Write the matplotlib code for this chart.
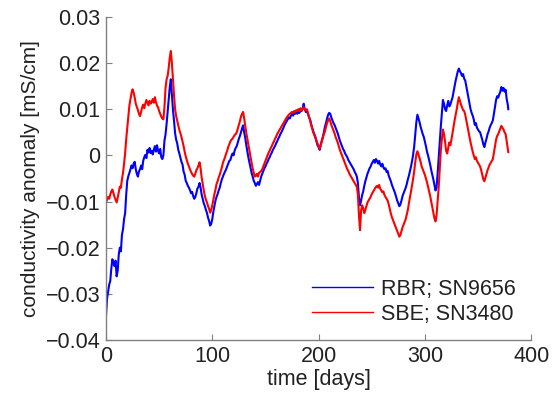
import matplotlib
matplotlib.use("Agg")
import matplotlib.pyplot as plt

plt.rcParams['font.family'] = ['Liberation Sans', 'DejaVu Sans']

# time axis (days), one reading per day
days = list(range(379)) + [378.5]

rbr_vals = [
    -0.0347, -0.0310, -0.0295, -0.0280, -0.0272, -0.0245, -0.0225, -0.0232, -0.0240, -0.0228,
    -0.0262, -0.0250, -0.0215, -0.0200, -0.0208, -0.0172, -0.0160, -0.0138, -0.0125, -0.0085,
    -0.0055, -0.0045, -0.0038, -0.0030, -0.0022, -0.0028, -0.0018, -0.0014, -0.0030, -0.0040,
    -0.0046, -0.0035, -0.0030, -0.0022, -0.0030, -0.0012, -0.0004, 0.0001, -0.0006, 0.0012,
    0.0006, 0.0016, 0.0005, 0.0010, 0.0002, 0.0012, 0.0020, 0.0008, 0.0022, 0.0010,
    0.0004, 0.0014, -0.0004, -0.0008, 0.0000, 0.0032, 0.0045, 0.0068, 0.0095, 0.0120,
    0.0148, 0.0165, 0.0130, 0.0098, 0.0075, 0.0048, 0.0034, 0.0026, 0.0012, 0.0004,
    -0.0005, -0.0014, -0.0020, -0.0035, -0.0042, -0.0055, -0.0060, -0.0066, -0.0070, -0.0075,
    -0.0082, -0.0079, -0.0088, -0.0094, -0.0090, -0.0082, -0.0072, -0.0068, -0.0060, -0.0070,
    -0.0085, -0.0095, -0.0104, -0.0110, -0.0118, -0.0125, -0.0135, -0.0142, -0.0152, -0.0148,
    -0.0138, -0.0122, -0.0110, -0.0098, -0.0090, -0.0084, -0.0076, -0.0070, -0.0060, -0.0052,
    -0.0046, -0.0040, -0.0035, -0.0030, -0.0024, -0.0018, -0.0012, -0.0010, -0.0002, 0.0004,
    0.0000, 0.0010, 0.0016, 0.0020, 0.0028, 0.0036, 0.0042, 0.0050, 0.0058, 0.0065,
    0.0050, 0.0038, 0.0022, 0.0008, -0.0005, -0.0016, -0.0028, -0.0038, -0.0046, -0.0055,
    -0.0060, -0.0066, -0.0062, -0.0058, -0.0064, -0.0055, -0.0046, -0.0040, -0.0034, -0.0028,
    -0.0024, -0.0018, -0.0014, -0.0008, -0.0004, 0.0002, 0.0006, 0.0012, 0.0016, 0.0020,
    0.0026, 0.0030, 0.0036, 0.0040, 0.0046, 0.0050, 0.0055, 0.0060, 0.0066, 0.0070,
    0.0074, 0.0078, 0.0082, 0.0080, 0.0086, 0.0090, 0.0086, 0.0093, 0.0090, 0.0095,
    0.0090, 0.0098, 0.0092, 0.0100, 0.0096, 0.0102, 0.0112, 0.0100, 0.0094, 0.0096,
    0.0090, 0.0082, 0.0078, 0.0068, 0.0060, 0.0052, 0.0046, 0.0040, 0.0030, 0.0022,
    0.0018, 0.0012, 0.0022, 0.0032, 0.0040, 0.0050, 0.0062, 0.0070, 0.0080, 0.0088,
    0.0092, 0.0090, 0.0082, 0.0076, 0.0070, 0.0066, 0.0060, 0.0054, 0.0048, 0.0040,
    0.0032, 0.0026, 0.0020, 0.0014, 0.0010, 0.0004, 0.0000, -0.0004, -0.0010, -0.0014,
    -0.0018, -0.0022, -0.0026, -0.0030, -0.0036, -0.0040, -0.0046, -0.0060, -0.0092, -0.0108,
    -0.0098, -0.0086, -0.0078, -0.0066, -0.0056, -0.0048, -0.0040, -0.0034, -0.0028, -0.0024,
    -0.0018, -0.0014, -0.0010, -0.0016, -0.0008, -0.0012, -0.0018, -0.0012, -0.0020, -0.0024,
    -0.0018, -0.0026, -0.0030, -0.0028, -0.0036, -0.0034, -0.0044, -0.0050, -0.0056, -0.0064,
    -0.0070, -0.0076, -0.0082, -0.0090, -0.0098, -0.0104, -0.0110, -0.0106, -0.0098, -0.0088,
    -0.0082, -0.0076, -0.0070, -0.0062, -0.0052, -0.0044, -0.0034, -0.0024, -0.0012, 0.0002,
    0.0020, 0.0046, 0.0072, 0.0088, 0.0080, 0.0072, 0.0062, 0.0054, 0.0046, 0.0040,
    0.0030, 0.0020, 0.0008, 0.0000, -0.0010, -0.0020, -0.0032, -0.0042, -0.0052, -0.0064,
    -0.0076, -0.0070, -0.0040, -0.0005, 0.0030, 0.0062, 0.0092, 0.0120, 0.0112, 0.0100,
    0.0096, 0.0108, 0.0118, 0.0106, 0.0110, 0.0118, 0.0125, 0.0138, 0.0150, 0.0162,
    0.0172, 0.0182, 0.0188, 0.0182, 0.0178, 0.0172, 0.0176, 0.0166, 0.0162, 0.0150,
    0.0138, 0.0125, 0.0112, 0.0100, 0.0092, 0.0086, 0.0078, 0.0066, 0.0070, 0.0060,
    0.0056, 0.0052, 0.0050, 0.0042, 0.0034, 0.0024, 0.0018, 0.0028, 0.0036, 0.0046,
    0.0052, 0.0060, 0.0066, 0.0070, 0.0076, 0.0090, 0.0105, 0.0120, 0.0128, 0.0125,
    0.0132, 0.0138, 0.0148, 0.0140, 0.0146, 0.0138, 0.0142, 0.0122, 0.0110, 0.0100,
]

sbe_vals = [
    -0.0102, -0.0096, -0.0090, -0.0094, -0.0085, -0.0078, -0.0074, -0.0082, -0.0090, -0.0096,
    -0.0102, -0.0092, -0.0080, -0.0068, -0.0070, -0.0052, -0.0038, -0.0018, 0.0005, 0.0035,
    0.0060, 0.0085, 0.0108, 0.0122, 0.0135, 0.0143, 0.0136, 0.0125, 0.0112, 0.0105,
    0.0098, 0.0090, 0.0085, 0.0094, 0.0104, 0.0110, 0.0102, 0.0112, 0.0120, 0.0114,
    0.0108, 0.0118, 0.0112, 0.0116, 0.0122, 0.0114, 0.0126, 0.0115, 0.0108, 0.0104,
    0.0096, 0.0090, 0.0084, 0.0080, 0.0078, 0.0105, 0.0145, 0.0165, 0.0172, 0.0190,
    0.0212, 0.0226, 0.0200, 0.0165, 0.0130, 0.0100, 0.0085, 0.0075, 0.0064, 0.0055,
    0.0048, 0.0040, 0.0030, 0.0020, 0.0008, -0.0002, -0.0010, -0.0018, -0.0024, -0.0030,
    -0.0036, -0.0040, -0.0044, -0.0046, -0.0040, -0.0032, -0.0028, -0.0022, -0.0015, -0.0028,
    -0.0048, -0.0062, -0.0076, -0.0088, -0.0096, -0.0102, -0.0110, -0.0116, -0.0124, -0.0118,
    -0.0108, -0.0096, -0.0084, -0.0074, -0.0062, -0.0056, -0.0048, -0.0042, -0.0034, -0.0026,
    -0.0016, -0.0010, -0.0004, 0.0004, 0.0010, 0.0018, 0.0024, 0.0030, 0.0034, 0.0036,
    0.0040, 0.0044, 0.0046, 0.0050, 0.0058, 0.0066, 0.0074, 0.0084, 0.0090, 0.0094,
    0.0080, 0.0064, 0.0048, 0.0036, 0.0022, 0.0010, -0.0004, -0.0016, -0.0028, -0.0038,
    -0.0046, -0.0044, -0.0040, -0.0046, -0.0038, -0.0036, -0.0034, -0.0030, -0.0024, -0.0018,
    -0.0012, -0.0006, 0.0000, 0.0006, 0.0010, 0.0016, 0.0020, 0.0026, 0.0030, 0.0036,
    0.0040, 0.0046, 0.0050, 0.0054, 0.0058, 0.0062, 0.0066, 0.0070, 0.0074, 0.0078,
    0.0082, 0.0085, 0.0088, 0.0090, 0.0092, 0.0094, 0.0092, 0.0096, 0.0094, 0.0098,
    0.0096, 0.0100, 0.0096, 0.0102, 0.0098, 0.0100, 0.0104, 0.0100, 0.0098, 0.0100,
    0.0092, 0.0084, 0.0076, 0.0066, 0.0058, 0.0050, 0.0044, 0.0038, 0.0032, 0.0026,
    0.0020, 0.0014, 0.0022, 0.0030, 0.0038, 0.0046, 0.0052, 0.0062, 0.0070, 0.0076,
    0.0080, 0.0074, 0.0066, 0.0060, 0.0054, 0.0048, 0.0040, 0.0034, 0.0028, 0.0020,
    0.0012, 0.0006, 0.0000, -0.0006, -0.0012, -0.0018, -0.0024, -0.0030, -0.0034, -0.0040,
    -0.0044, -0.0048, -0.0052, -0.0056, -0.0060, -0.0064, -0.0068, -0.0085, -0.0130, -0.0162,
    -0.0120, -0.0108, -0.0115, -0.0125, -0.0118, -0.0110, -0.0102, -0.0098, -0.0094, -0.0090,
    -0.0084, -0.0080, -0.0076, -0.0072, -0.0068, -0.0066, -0.0070, -0.0064, -0.0072, -0.0076,
    -0.0080, -0.0078, -0.0086, -0.0090, -0.0094, -0.0098, -0.0106, -0.0116, -0.0126, -0.0134,
    -0.0140, -0.0146, -0.0152, -0.0158, -0.0164, -0.0170, -0.0176, -0.0172, -0.0164, -0.0156,
    -0.0150, -0.0144, -0.0138, -0.0128, -0.0118, -0.0104, -0.0090, -0.0078, -0.0064, -0.0050,
    -0.0034, -0.0014, 0.0002, 0.0009, 0.0002, -0.0006, -0.0014, -0.0024, -0.0030, -0.0036,
    -0.0042, -0.0050, -0.0058, -0.0068, -0.0078, -0.0088, -0.0100, -0.0112, -0.0124, -0.0136,
    -0.0143, -0.0130, -0.0100, -0.0070, -0.0030, 0.0010, 0.0035, 0.0056, 0.0046, 0.0030,
    0.0010, 0.0004, 0.0016, 0.0028, 0.0022, 0.0034, 0.0048, 0.0062, 0.0076, 0.0088,
    0.0100, 0.0114, 0.0126, 0.0118, 0.0110, 0.0104, 0.0098, 0.0096, 0.0088, 0.0076,
    0.0064, 0.0052, 0.0040, 0.0028, 0.0018, 0.0008, 0.0000, -0.0008, -0.0004, -0.0012,
    -0.0016, -0.0020, -0.0024, -0.0032, -0.0042, -0.0052, -0.0056, -0.0048, -0.0040, -0.0032,
    -0.0026, -0.0020, -0.0016, -0.0012, -0.0008, 0.0006, 0.0020, 0.0034, 0.0042, 0.0046,
    0.0052, 0.0058, 0.0064, 0.0060, 0.0056, 0.0050, 0.0046, 0.0030, 0.0014, 0.0007,
]

labels = ['RBR; SN9656', 'SBE; SN3480']
xticks = [0, 100, 200, 300, 400]
yticks = [-0.04, -0.03, -0.02, -0.01, 0, 0.01, 0.02, 0.03]
ytick_labels = ['\u22120.04', '\u22120.03', '\u22120.02', '\u22120.01', '0', '0.01', '0.02', '0.03']

n = min(len(days), len(rbr_vals), len(sbe_vals))

fig = plt.figure(figsize=(5.55, 4.01), dpi=100)
ax = fig.add_axes([0.191, 0.152, 0.766, 0.806])
ax.plot(days[:n], rbr_vals[:n], color='#0000ff', lw=1.5, label=labels[0])
ax.plot(days[:n], sbe_vals[:n], color='#ff0000', lw=1.5, label=labels[1])
ax.set_xlim(0, 400)
ax.set_ylim(-0.04, 0.03)
ax.set_xticks(xticks)
ax.set_xticklabels([str(t) for t in xticks])
ax.set_yticks(yticks)
ax.set_yticklabels(ytick_labels)
for s in ['top', 'right']:
    ax.spines[s].set_visible(False)
for s in ['left', 'bottom']:
    ax.spines[s].set_color('#808080')
    ax.spines[s].set_linewidth(1.0)
ax.tick_params(direction='in', length=4, color='#808080', labelsize=15.5, labelcolor='#222222', pad=4)
ax.set_xlabel('time [days]', fontsize=15.5, color='#222222', labelpad=2)
ax.set_ylabel('conductivity anomaly [mS/cm]', fontsize=15, color='#222222', labelpad=4)
leg = ax.legend(loc='lower right', frameon=False, fontsize=15.5, handlelength=2.8,
                handletextpad=0.4, labelspacing=0.2, borderaxespad=0.3)
for line in leg.get_lines():
    line.set_linewidth(1.0)
for t in leg.get_texts():
    t.set_color('#222222')
fig.savefig('out.png', dpi=100)
